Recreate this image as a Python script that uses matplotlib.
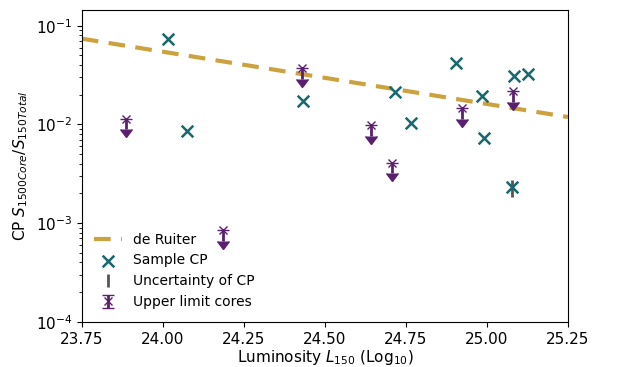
import matplotlib
matplotlib.use("Agg")
import matplotlib.pyplot as plt
import numpy as np

# de Ruiter relation (endpoints across the plotted range)
ruiter_L = [23.75, 25.25]
ruiter_cp = [0.074, 0.0119]

# Sample CP
sample_L = [24.016, 24.076, 24.433, 24.717, 24.765, 24.904, 24.986, 24.991, 25.078, 25.084, 25.127]
sample_cp = [0.0733, 0.00867, 0.0171, 0.0211, 0.01045, 0.0419, 0.0195, 0.00736, 0.00231, 0.0311, 0.0326]

# Uncertainty of CP
unc_L = [25.078]
unc_cp = [0.00231]
unc_err = [0.00045]

# Upper limit cores
ul_L = [23.886, 24.185, 24.429, 24.642, 24.706, 24.923, 25.079]
ul_cp = [0.0114, 0.000853, 0.0372, 0.0099, 0.00411, 0.0146, 0.0216]
ul_frac = 0.22

teal = "#17686f"
purple = "#5a1f6e"
gold = "#cca23f"
grey = "#555555"

fig = plt.figure(figsize=(6.2, 3.67), dpi=100)
ax = fig.add_axes([0.132, 0.123, 0.784, 0.851])

ax.plot(ruiter_L, ruiter_cp, '--', color=gold, lw=3, label="de Ruiter", dashes=(4, 2.5))
ax.scatter(sample_L, sample_cp, marker='x', color=teal, s=70, linewidths=1.8,
           label="Sample CP", zorder=3)
ax.errorbar(unc_L, unc_cp, yerr=unc_err, fmt='none', ecolor=grey, elinewidth=2,
            label="Uncertainty of CP", zorder=2)
ul_err = [v * ul_frac for v in ul_cp]
ax.errorbar(ul_L, ul_cp, yerr=ul_err, uplims=True, fmt='x', color=purple,
            ms=6, mew=1, elinewidth=2, capsize=4, capthick=2,
            label="Upper limit cores", zorder=4)

ax.set_yscale('log')
ax.set_xlim(23.75, 25.25)
ax.set_ylim(1e-4, 0.146)
ax.set_xticks([23.75, 24.0, 24.25, 24.5, 24.75, 25.0, 25.25])
ax.set_xticklabels(["23.75", "24.00", "24.25", "24.50", "24.75", "25.00", "25.25"])
ax.tick_params(axis='both', labelsize=11)
ax.set_xlabel(r"Luminosity $L_{150}$ (Log$_{10}$)", fontsize=11, labelpad=1)
ax.set_ylabel(r"CP $S_{1500Core}/S_{150Total}$", fontsize=11)

ax.legend(loc='lower left', frameon=False, fontsize=10, handlelength=2.0)

fig.savefig("out.png", dpi=100)
